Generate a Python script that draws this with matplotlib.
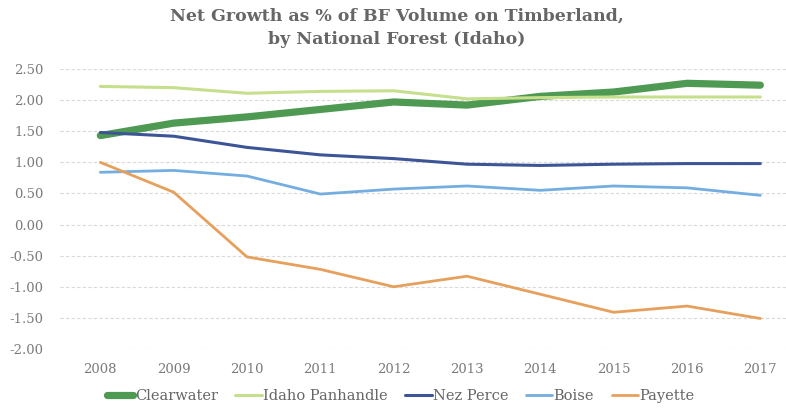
import matplotlib
matplotlib.use("Agg")
import matplotlib.pyplot as plt

years = [2008, 2009, 2010, 2011, 2012, 2013, 2014, 2015, 2016, 2017]
clearwater = [1.43, 1.63, 1.73, 1.85, 1.97, 1.92, 2.06, 2.13, 2.27, 2.24]
idaho_panhandle = [2.22, 2.20, 2.11, 2.14, 2.15, 2.02, 2.04, 2.05, 2.05, 2.05]
nez_perce = [1.48, 1.42, 1.24, 1.12, 1.06, 0.97, 0.95, 0.97, 0.98, 0.98]
boise = [0.84, 0.87, 0.78, 0.49, 0.57, 0.62, 0.55, 0.62, 0.59, 0.47]
payette = [1.00, 0.52, -0.52, -0.72, -1.00, -0.83, -1.12, -1.41, -1.31, -1.51]
yticks = [2.5, 2.0, 1.5, 1.0, 0.5, 0.0, -0.5, -1.0, -1.5, -2.0]

plt.rcParams['font.family'] = ['DejaVu Serif']

fig = plt.figure(figsize=(7.86, 4.08), dpi=100)
ax = fig.add_axes([60/786, 1 - 349/408, (786 - 60)/786, 280/408])

series = [
    ("Clearwater", clearwater, "#4e9a52", 5.2),
    ("Idaho Panhandle", idaho_panhandle, "#c6df8c", 2.2),
    ("Nez Perce", nez_perce, "#3d5597", 2.2),
    ("Boise", boise, "#74aee0", 2.0),
    ("Payette", payette, "#e6a05c", 2.0),
]
for name, vals, col, lw in series:
    ax.plot(years, vals, color=col, lw=lw, label=name, solid_capstyle='round')

ax.set_ylim(-2.0, 2.5)
ax.set_xlim(2007.45, 2017.35)
ax.set_yticks(yticks)
ax.set_yticklabels([f"{v:.2f}" for v in yticks])
ax.set_xticks(years)
ax.set_xticklabels([str(y) for y in years])
ax.tick_params(length=0, colors="#7a7a7a", labelsize=9.5)
ax.tick_params(axis='x', pad=10)
ax.tick_params(axis='y', pad=12)
ax.grid(axis='y', color="#d9d9d9", lw=0.8, ls=(0, (3, 2)))
ax.set_axisbelow(True)
for s in ax.spines.values():
    s.set_visible(False)

fig.text(0.505, 1 - 16/408, "Net Growth as % of BF Volume on Timberland,", ha='center', va='center',
         fontsize=12.5, fontweight='bold', color="#666666")
fig.text(0.505, 1 - 40/408, "by National Forest (Idaho)", ha='center', va='center',
         fontsize=12.5, fontweight='bold', color="#666666")

leg = fig.legend(loc='center', bbox_to_anchor=(0.51, 1 - 396/408), ncol=5, frameon=False,
                 fontsize=10.5, handlelength=1.8, handletextpad=0.1, columnspacing=1.2)
for t in leg.get_texts():
    t.set_color("#666666")

fig.savefig("out.png", dpi=100)
